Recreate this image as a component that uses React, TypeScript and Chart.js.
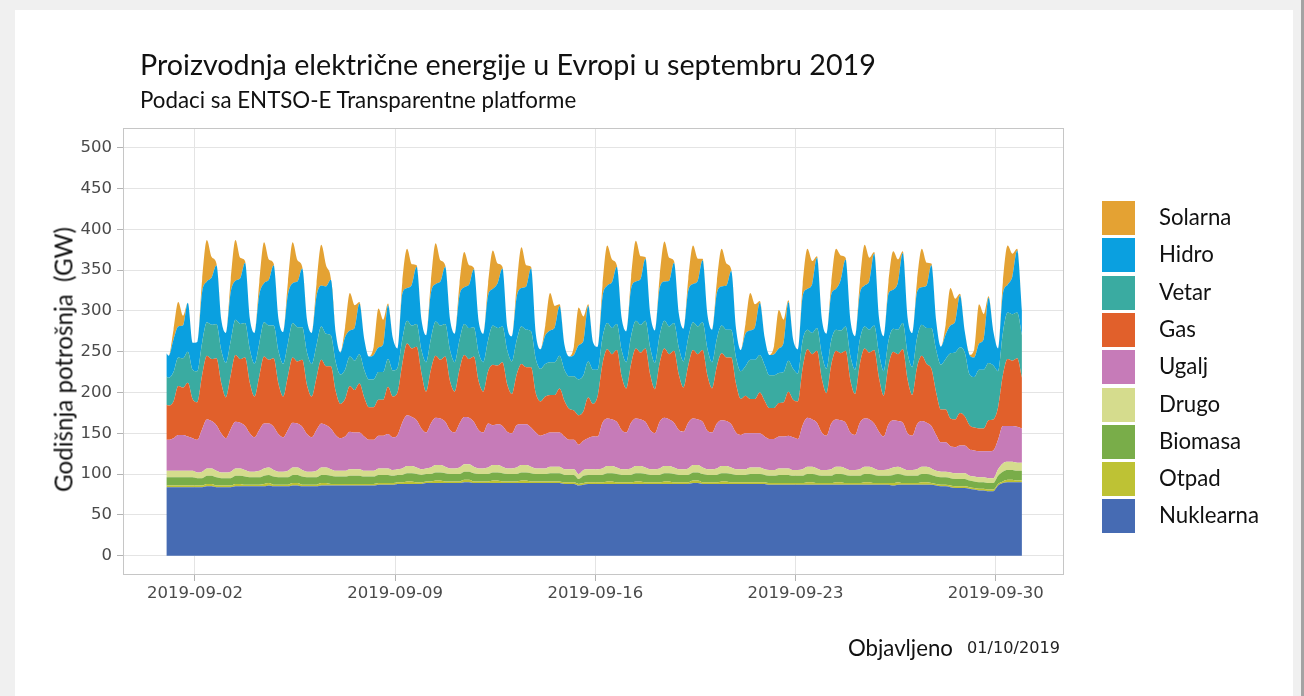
import React, { useEffect, useRef } from 'react';
import { Chart, registerables } from 'chart.js';

Chart.register(...registerables);

// ---------- texts ----------
const TITLE = 'Proizvodnja električne energije u Evropi u septembru 2019';
const SUBTITLE = 'Podaci sa ENTSO-E Transparentne platforme';
const Y_TITLE = 'Godišnja potrošnja  (GW)';
const FOOTER_LABEL = 'Objavljeno';
const FOOTER_DATE = '01/10/2019';

// ---------- axes ----------
// x values are hours since 2019-09-01 00:00; readings at 02,06,10,14,18,22 h each day
const SLOT_HOURS = [2, 6, 10, 14, 18, 22];
const DAY_COUNT = 30;
const HOURS: number[] = [0];
for (let d = 0; d < DAY_COUNT; d++) for (const h of SLOT_HOURS) HOURS.push(d * 24 + h);

const X_TICKS = [24, 192, 360, 528, 696];
const X_TICK_LABELS = ['2019-09-02', '2019-09-09', '2019-09-16', '2019-09-23', '2019-09-30'];
const Y_TICKS = [0, 50, 100, 150, 200, 250, 300, 350, 400, 450, 500];

// ---------- series (GW), first value = 00h Sep 1, then one row per day ----------
const NUKLEARNA = [84,
  84, 84, 84, 84, 84, 84,
  84, 84, 85, 85, 84, 84,
  84, 84, 85, 85, 85, 85,
  85, 85, 85, 86, 85, 85,
  85, 85, 86, 86, 85, 85,
  85, 85, 86, 86, 86, 86,
  86, 86, 86, 86, 86, 86,
  86, 86, 87, 87, 87, 87,
  88, 88, 88, 88, 88, 88,
  89, 89, 89, 89, 89, 89,
  89, 89, 90, 90, 89, 89,
  89, 89, 89, 89, 89, 89,
  89, 89, 89, 89, 89, 89,
  89, 89, 89, 89, 89, 88,
  88, 88, 86, 87, 88, 88,
  88, 88, 88, 88, 88, 88,
  88, 88, 88, 88, 88, 88,
  88, 88, 88, 88, 88, 88,
  88, 88, 89, 89, 88, 88,
  88, 88, 88, 88, 88, 88,
  88, 88, 88, 88, 88, 88,
  87, 87, 87, 87, 87, 87,
  87, 87, 87, 87, 87, 87,
  87, 87, 87, 87, 87, 87,
  87, 87, 87, 87, 87, 87,
  87, 87, 86, 87, 87, 87,
  87, 87, 87, 87, 87, 86,
  85, 85, 84, 83, 83, 83,
  82, 81, 80, 80, 79, 79,
  86, 89, 90, 90, 90, 90];

const OTPAD = [2,
  2, 2, 2, 2, 2, 2,
  2, 2, 3, 3, 2, 2,
  2, 2, 3, 3, 2, 2,
  2, 2, 3, 3, 2, 2,
  2, 2, 3, 3, 2, 2,
  2, 2, 3, 3, 2, 2,
  2, 2, 2, 2, 2, 2,
  2, 2, 2, 2, 2, 2,
  2, 2, 3, 3, 2, 2,
  2, 2, 3, 3, 2, 2,
  2, 2, 3, 3, 2, 2,
  2, 2, 3, 3, 2, 2,
  2, 2, 3, 3, 2, 2,
  2, 2, 2, 2, 2, 2,
  2, 2, 2, 2, 2, 2,
  2, 2, 3, 3, 2, 2,
  2, 2, 3, 3, 2, 2,
  2, 2, 3, 3, 2, 2,
  2, 2, 3, 3, 2, 2,
  2, 2, 3, 3, 2, 2,
  2, 2, 2, 2, 2, 2,
  2, 2, 2, 2, 2, 2,
  2, 2, 3, 3, 2, 2,
  2, 2, 3, 3, 2, 2,
  2, 2, 3, 3, 2, 2,
  2, 2, 3, 3, 2, 2,
  2, 2, 3, 3, 2, 2,
  2, 2, 2, 2, 2, 2,
  2, 2, 2, 2, 2, 2,
  2, 2, 3, 3, 2, 2];

const BIOMASA = [10,
  10, 10, 10, 10, 10, 10,
  9, 9, 10, 10, 10, 9,
  9, 9, 10, 10, 10, 9,
  9, 9, 10, 10, 10, 9,
  9, 9, 10, 10, 10, 9,
  9, 9, 10, 10, 10, 9,
  9, 9, 10, 10, 10, 9,
  9, 9, 10, 10, 10, 9,
  9, 9, 10, 10, 10, 9,
  9, 9, 10, 10, 10, 9,
  9, 9, 10, 10, 10, 9,
  9, 9, 10, 10, 10, 9,
  9, 9, 10, 10, 10, 9,
  9, 9, 10, 10, 10, 9,
  9, 9, 6, 9, 9, 9,
  9, 9, 10, 10, 10, 9,
  9, 9, 10, 10, 10, 9,
  9, 9, 10, 10, 10, 9,
  9, 9, 10, 10, 10, 9,
  9, 9, 10, 10, 10, 9,
  9, 9, 10, 10, 10, 9,
  9, 9, 10, 10, 10, 9,
  9, 9, 10, 10, 10, 9,
  9, 9, 10, 10, 10, 9,
  9, 9, 10, 10, 10, 9,
  9, 9, 10, 10, 10, 9,
  9, 9, 10, 10, 10, 9,
  9, 9, 9, 9, 9, 9,
  8, 8, 8, 8, 8, 8,
  10, 12, 12, 12, 12, 12];

const DRUGO = [8,
  8, 8, 8, 8, 8, 8,
  7, 8, 9, 9, 8, 7,
  7, 8, 9, 9, 8, 7,
  7, 8, 9, 9, 8, 7,
  7, 8, 9, 9, 8, 7,
  7, 8, 9, 9, 8, 7,
  7, 7, 8, 8, 8, 7,
  7, 7, 8, 8, 8, 7,
  7, 8, 9, 9, 8, 7,
  7, 8, 9, 9, 8, 7,
  7, 8, 9, 9, 8, 7,
  7, 8, 9, 9, 8, 7,
  7, 8, 9, 9, 8, 7,
  7, 7, 8, 8, 8, 7,
  7, 7, 6, 7, 7, 7,
  7, 8, 9, 9, 8, 7,
  7, 8, 9, 9, 8, 7,
  7, 8, 9, 9, 8, 7,
  7, 8, 9, 9, 8, 7,
  7, 8, 9, 9, 8, 7,
  7, 7, 8, 8, 8, 7,
  7, 7, 8, 8, 8, 7,
  7, 8, 9, 9, 8, 7,
  7, 8, 9, 9, 8, 7,
  7, 8, 9, 9, 8, 7,
  7, 8, 9, 9, 8, 7,
  7, 8, 9, 9, 8, 7,
  7, 7, 7, 7, 7, 7,
  6, 6, 6, 6, 6, 6,
  8, 10, 10, 10, 10, 10];

const UGALJ = [38,
  38, 40, 44, 44, 42, 40,
  40, 52, 60, 58, 56, 48,
  42, 52, 57, 56, 54, 47,
  42, 50, 55, 54, 53, 46,
  42, 50, 55, 54, 53, 46,
  42, 50, 54, 52, 50, 44,
  40, 42, 46, 45, 45, 42,
  38, 38, 40, 40, 42, 40,
  42, 56, 62, 60, 58, 50,
  44, 54, 58, 57, 55, 47,
  44, 54, 58, 57, 55, 47,
  44, 54, 49, 50, 50, 45,
  43, 52, 50, 50, 48, 44,
  40, 42, 42, 42, 42, 40,
  36, 36, 36, 36, 38, 40,
  40, 56, 58, 57, 56, 48,
  45, 56, 58, 57, 56, 48,
  44, 57, 59, 57, 55, 48,
  46, 56, 57, 56, 56, 47,
  45, 55, 56, 55, 53, 45,
  42, 44, 42, 42, 42, 40,
  38, 38, 39, 39, 40, 40,
  38, 54, 60, 58, 56, 46,
  42, 56, 58, 57, 56, 46,
  43, 57, 59, 58, 55, 47,
  41, 55, 58, 56, 56, 45,
  42, 55, 56, 54, 52, 44,
  36, 36, 32, 32, 34, 34,
  32, 32, 32, 32, 33, 34,
  36, 46, 44, 44, 44, 42];

const GAS = [43,
  42, 45, 60, 58, 66, 48,
  46, 66, 78, 76, 82, 62,
  50, 66, 82, 78, 84, 62,
  50, 66, 82, 78, 84, 62,
  50, 66, 80, 76, 82, 60,
  50, 64, 78, 72, 76, 54,
  42, 46, 56, 52, 60, 48,
  40, 40, 44, 44, 58, 50,
  52, 72, 88, 84, 90, 68,
  50, 66, 76, 72, 80, 60,
  50, 66, 76, 72, 80, 60,
  50, 64, 74, 72, 78, 58,
  48, 62, 74, 70, 74, 48,
  42, 46, 46, 46, 54, 44,
  38, 36, 36, 36, 50, 40,
  50, 72, 85, 80, 88, 66,
  54, 72, 86, 82, 90, 68,
  54, 72, 85, 80, 88, 68,
  54, 70, 84, 80, 88, 68,
  54, 70, 82, 78, 82, 60,
  44, 46, 42, 42, 50, 44,
  38, 38, 41, 42, 54, 46,
  46, 70, 84, 80, 88, 66,
  52, 72, 84, 82, 88, 64,
  50, 72, 86, 82, 90, 66,
  50, 72, 84, 82, 90, 66,
  50, 70, 80, 72, 70, 52,
  40, 40, 34, 34, 40, 36,
  30, 28, 28, 28, 38, 38,
  40, 62, 82, 80, 84, 62];

const VETAR = [35,
  34, 36, 35, 36, 38, 36,
  38, 40, 41, 42, 42, 40,
  42, 42, 43, 43, 42, 41,
  40, 40, 42, 42, 40, 40,
  40, 40, 42, 42, 40, 40,
  40, 40, 41, 40, 38, 36,
  36, 36, 36, 36, 36, 34,
  34, 34, 34, 34, 34, 32,
  30, 30, 28, 28, 28, 28,
  36, 38, 42, 42, 40, 38,
  36, 36, 38, 38, 36, 35,
  36, 38, 48, 46, 44, 42,
  40, 42, 46, 46, 44, 42,
  40, 40, 40, 40, 40, 38,
  40, 42, 44, 44, 44, 42,
  32, 32, 32, 32, 32, 32,
  32, 34, 34, 34, 34, 33,
  32, 34, 34, 34, 34, 33,
  32, 34, 34, 34, 34, 33,
  32, 34, 34, 34, 34, 32,
  34, 36, 48, 48, 46, 44,
  40, 40, 37, 37, 38, 38,
  34, 34, 24, 26, 28, 30,
  30, 30, 26, 28, 30, 30,
  30, 30, 27, 28, 30, 30,
  30, 30, 28, 30, 32, 32,
  34, 36, 38, 44, 50, 52,
  55, 62, 80, 82, 80, 78,
  62, 62, 72, 72, 70, 66,
  44, 52, 57, 57, 56, 52];

const HIDRO = [28,
  27, 40, 38, 40, 60, 33,
  36, 62, 50, 58, 72, 38,
  37, 60, 48, 56, 74, 38,
  38, 60, 48, 56, 74, 40,
  39, 60, 49, 56, 72, 40,
  38, 60, 50, 58, 68, 36,
  27, 40, 32, 40, 62, 38,
  28, 30, 30, 34, 66, 40,
  24, 56, 40, 50, 70, 38,
  33, 56, 46, 54, 70, 38,
  35, 55, 45, 53, 71, 39,
  35, 55, 45, 55, 71, 29,
  31, 53, 47, 53, 77, 31,
  24, 35, 39, 43, 61, 31,
  24, 26, 42, 42, 68, 34,
  28, 50, 46, 56, 70, 40,
  38, 58, 48, 56, 76, 42,
  40, 58, 48, 56, 74, 42,
  40, 58, 47, 56, 76, 42,
  40, 56, 48, 54, 72, 36,
  26, 40, 36, 40, 64, 34,
  25, 26, 30, 36, 72, 36,
  30, 54, 50, 60, 86, 44,
  43, 56, 50, 62, 82, 44,
  41, 56, 50, 60, 88, 44,
  43, 58, 48, 58, 86, 44,
  42, 56, 46, 52, 77, 36,
  22, 30, 34, 38, 64, 26,
  24, 24, 32, 38, 80, 42,
  28, 48, 34, 46, 76, 30];

const SOLARNA = [0,
  0, 12, 30, 12, 0, 0,
  0, 15, 51, 25, 2, 0,
  0, 15, 50, 25, 2, 0,
  0, 15, 50, 25, 2, 0,
  0, 15, 50, 26, 2, 0,
  0, 15, 50, 26, 2, 0,
  0, 12, 46, 28, 2, 0,
  0, 10, 48, 30, 2, 0,
  0, 14, 48, 25, 2, 0,
  0, 14, 50, 26, 2, 0,
  0, 14, 43, 24, 2, 0,
  0, 14, 47, 24, 2, 0,
  0, 14, 50, 26, 2, 0,
  0, 12, 46, 26, 2, 0,
  0, 10, 46, 30, 2, 0,
  0, 14, 49, 28, 2, 0,
  0, 14, 50, 28, 2, 0,
  0, 14, 49, 28, 2, 0,
  0, 14, 47, 27, 2, 0,
  0, 14, 46, 27, 2, 0,
  0, 12, 46, 28, 2, 0,
  0, 10, 47, 28, 2, 0,
  0, 14, 49, 28, 2, 0,
  0, 14, 49, 30, 2, 0,
  0, 14, 50, 28, 2, 0,
  0, 14, 47, 28, 2, 0,
  0, 14, 47, 28, 2, 0,
  0, 12, 46, 28, 2, 0,
  0, 10, 48, 30, 2, 0,
  0, 14, 48, 28, 2, 0];

// stacking order: bottom first
const SERIES_NAMES = ['Nuklearna', 'Otpad', 'Biomasa', 'Drugo', 'Ugalj', 'Gas', 'Vetar', 'Hidro', 'Solarna'];
const SERIES_COLORS = ['#466bb3', '#bec234', '#79ad49', '#d5dc8d', '#c67bb8', '#e1602b', '#3aaba1', '#0aa0e0', '#e4a233'];
const SERIES_VALUES = [NUKLEARNA, OTPAD, BIOMASA, DRUGO, UGALJ, GAS, VETAR, HIDRO, SOLARNA];

// ---------- text helpers ----------
const CAL = "Lato, 'Open Sans', sans-serif";
const DEJ = "'DejaVu Sans', sans-serif";
let mctx: CanvasRenderingContext2D | null = null;
function measure(text: string, size: number, family: string, weight = 'normal') {
  if (!mctx) mctx = document.createElement('canvas').getContext('2d');
  const c = mctx as CanvasRenderingContext2D;
  c.font = `${weight} ${size}px ${family}`;
  const m = c.measureText(text);
  return { w: m.width, a: m.fontBoundingBoxAscent || size * 0.8, d: m.fontBoundingBoxDescent || size * 0.2 };
}
function fit(text: string, family: string, width: number, weight = 'normal') {
  return (100 * width) / measure(text, 100, family, weight).w;
}

function Txt(props: { text: string; x: number; baseline: number; size: number; family: string; color: string; weight?: string }) {
  const { text, x, baseline, size, family, color } = props;
  const weight = props.weight || 'normal';
  const m = measure(text, size, family, weight);
  const lh = Math.round(size * 1.3);
  const top = baseline - ((lh - (m.a + m.d)) / 2 + m.a);
  return (
    <div style={{ position: 'absolute', left: x, top, fontFamily: family, fontSize: size, fontWeight: weight as any, lineHeight: lh + 'px', color, whiteSpace: 'pre' }}>{text}</div>
  );
}

const panelBorder = {
  id: 'panelBorder',
  afterDatasetsDraw(chart: any) {
    const { ctx, chartArea: a } = chart;
    ctx.save();
    ctx.strokeStyle = '#c6c6c6';
    ctx.lineWidth = 1;
    ctx.strokeRect(Math.round(a.left) + 0.5, Math.round(a.top) + 0.5, Math.round(a.right - a.left) - 1, Math.round(a.bottom - a.top) - 1);
    ctx.restore();
  },
};

export default function App() {
  const ref = useRef<HTMLCanvasElement>(null);

  useEffect(() => {
    document.body.style.margin = '0';
    const tickFont = { family: 'DejaVu Sans', size: 16.5 };
    const chart = new Chart(ref.current as HTMLCanvasElement, {
      type: 'line',
      data: {
        datasets: SERIES_NAMES.map((name, i) => ({
          label: name,
          data: HOURS.map((h, j) => ({ x: h, y: SERIES_VALUES[i][j] })),
          backgroundColor: SERIES_COLORS[i],
          borderColor: 'rgba(0,0,0,0)',
          borderWidth: 0,
          pointRadius: 0,
          cubicInterpolationMode: 'monotone',
          fill: i === 0 ? 'origin' : '-1',
        })),
      },
      options: {
        responsive: false,
        animation: false,
        devicePixelRatio: 1,
        layout: { padding: { left: 40, top: 128, right: 240, bottom: 81 } },
        plugins: { legend: { display: false }, tooltip: { enabled: false }, title: { display: false } },
        scales: {
          x: {
            type: 'linear',
            min: -36.4,
            max: 753.3,
            afterFit: (s: any) => { s.height = 40; },
            afterBuildTicks: (s: any) => { s.ticks = X_TICKS.map((v) => ({ value: v })); },
            ticks: {
              callback: (v: any) => { const k = X_TICKS.indexOf(Number(v)); return k >= 0 ? X_TICK_LABELS[k] : ''; },
              color: '#4a4a4a',
              font: tickFont,
              padding: 3,
              maxRotation: 0,
              autoSkip: false,
            },
            grid: { color: '#e4e4e4', tickColor: '#b3b3b3', tickLength: 6, drawTicks: true },
            border: { display: false },
          },
          y: {
            type: 'linear',
            stacked: true,
            min: -23.65,
            max: 524.1,
            afterFit: (s: any) => { s.width = 83; },
            afterBuildTicks: (s: any) => { s.ticks = Y_TICKS.map((v) => ({ value: v })); },
            ticks: { color: '#4a4a4a', font: tickFont, padding: 5, callback: (v: any) => String(v) },
            grid: { color: '#e4e4e4', tickColor: '#b3b3b3', tickLength: 6, drawTicks: true },
            border: { display: false },
          },
        },
      } as any,
      plugins: [panelBorder],
    });
    return () => chart.destroy();
  }, []);

  const titleSize = fit(TITLE, CAL, 736);
  const subSize = fit(SUBTITLE, CAL, 437);
  const legSize = fit('Nuklearna', CAL, 100);
  const yTitleSize = fit(Y_TITLE, CAL, 265);
  const footSize = fit(FOOTER_LABEL, CAL, 105);
  const dateSize = fit(FOOTER_DATE, DEJ, 93);
  const yTitleLh = Math.round(yTitleSize * 1.3);

  const legendOrder = SERIES_NAMES.map((n, i) => i).reverse();

  return (
    <div style={{ position: 'absolute', left: 0, top: 0, width: 1304, height: 696, background: '#f0f0f0', overflow: 'hidden' }}>
      <div style={{ position: 'absolute', left: 15, top: 10, width: 1278, height: 686, background: '#ffffff' }} />
      <div style={{ position: 'absolute', left: 1301, top: 0, width: 3, height: 696, background: '#a3a3a3' }} />
      <canvas ref={ref} width={1304} height={696} style={{ position: 'absolute', left: 0, top: 0, width: 1304, height: 696 }} />
      <Txt text={TITLE} x={140} baseline={75} size={titleSize} family={CAL} color="#111111" />
      <Txt text={SUBTITLE} x={140} baseline={108} size={subSize} family={CAL} color="#111111" />
      <div style={{ position: 'absolute', left: 63, top: 359, width: 0, height: 0 }}>
        <div style={{ position: 'absolute', left: -200, top: -yTitleLh / 2, width: 400, textAlign: 'center', transform: 'rotate(-90deg)', fontFamily: CAL, fontSize: yTitleSize, lineHeight: yTitleLh + 'px', color: '#111111', whiteSpace: 'pre' }}>{Y_TITLE}</div>
      </div>
      {legendOrder.map((i, k) => {
        const top = 201 + k * 37.3;
        return (
          <React.Fragment key={SERIES_NAMES[i]}>
            <div style={{ position: 'absolute', left: 1102, top, width: 33, height: 34, background: SERIES_COLORS[i] }} />
            <Txt text={SERIES_NAMES[i]} x={1159} baseline={top + 24} size={legSize} family={CAL} color="#111111" />
          </React.Fragment>
        );
      })}
      <Txt text={FOOTER_LABEL} x={848} baseline={656} size={footSize} family={CAL} color="#111111" />
      <Txt text={FOOTER_DATE} x={967} baseline={653} size={dateSize} family={DEJ} color="#222222" />
    </div>
  );
}
